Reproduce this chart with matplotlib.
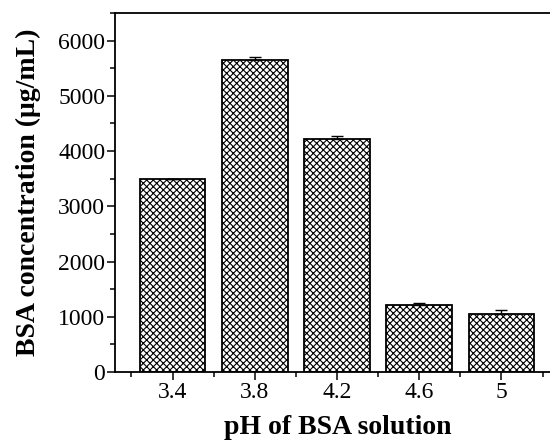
import matplotlib
matplotlib.use("Agg")
import matplotlib.pyplot as plt
import numpy as np

categories = ["3.4", "3.8", "4.2", "4.6", "5"]
values = [3490, 5640, 4210, 1210, 1050]
errors = [10, 55, 65, 45, 70]

plt.rcParams['font.family'] = ['Liberation Serif', 'DejaVu Serif']
plt.rcParams['hatch.linewidth'] = 0.8

fig = plt.figure(figsize=(5.5, 4.47), dpi=100)
ax = fig.add_axes([115/550, (447-372)/447, (559-115)/550, (372-13)/447])

x = np.arange(len(categories))
ax.bar(x, values, width=0.8, color='white', edgecolor='black', linewidth=1.3,
       hatch='xxxxx', zorder=2)
ax.errorbar(x, values, yerr=[np.zeros(len(errors)), errors], fmt='none',
            ecolor='black', elinewidth=1.0, capsize=4, capthick=1.0, zorder=3)

ax.set_xlim(-0.7, 4.7)
ax.set_ylim(0, 6500)
ax.set_xticks(x)
ax.set_xticklabels(categories)
ax.set_xticks(np.arange(-0.5, 5.0, 1.0), minor=True)
ax.set_yticks(np.arange(0, 6001, 1000))
ax.set_yticks(np.arange(500, 6501, 1000), minor=True)
ax.tick_params(axis='both', which='major', direction='out', length=6, width=1.1,
               labelsize=17, pad=1)
ax.tick_params(axis='both', which='minor', direction='out', length=3.5, width=1.1)
for s in ax.spines.values():
    s.set_linewidth(1.3)

ax.set_ylabel("BSA concentration (μg/mL)", fontsize=20, fontweight='bold')
ax.set_xlabel("pH of BSA solution", fontsize=20, fontweight='bold')
ax.yaxis.set_label_coords((28-115)/444, 0.5)
ax.xaxis.set_label_coords((338-115)/444, (372-428)/359)
ax.yaxis.label.set_va('center')
ax.xaxis.label.set_va('center')

fig.savefig("out.png", dpi=100)
